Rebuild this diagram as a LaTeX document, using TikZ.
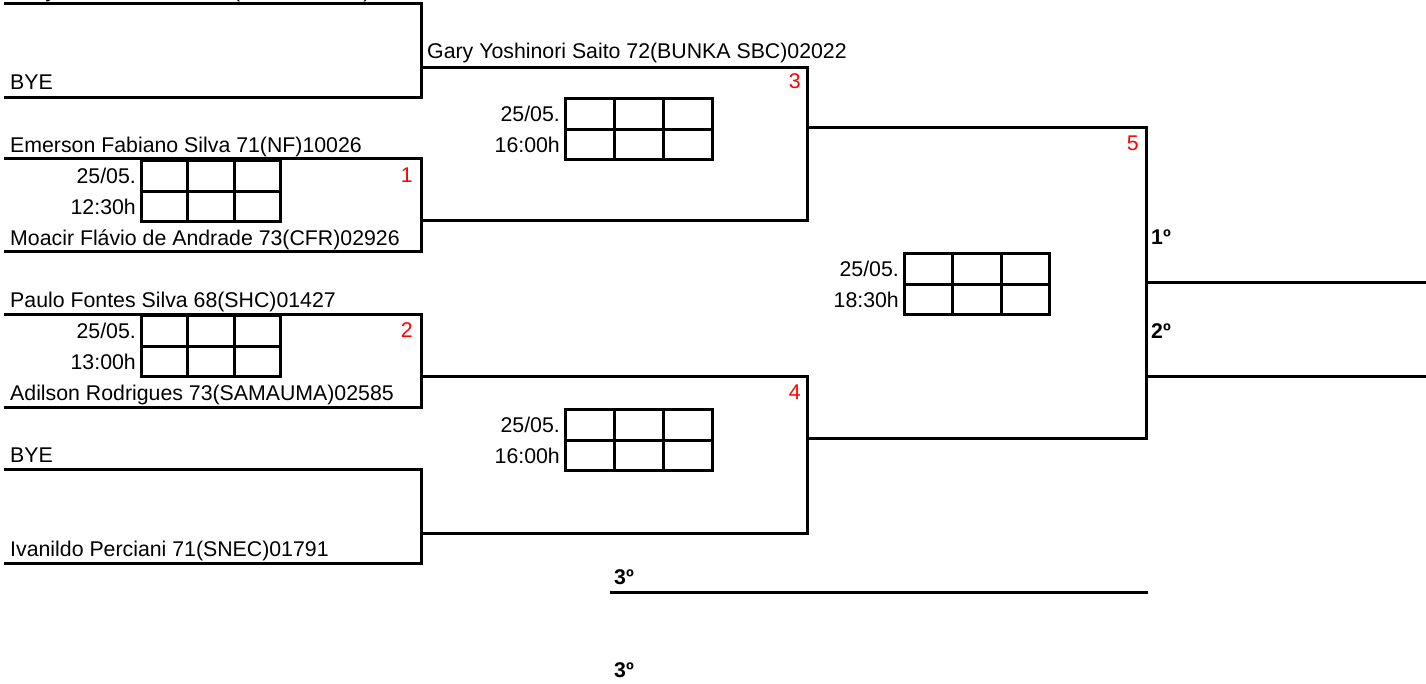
\documentclass[tikz,border=0pt]{standalone}
\usepackage{fontspec}
\setmainfont{Liberation Sans}
\usetikzlibrary{calc}
\begin{document}
\begin{tikzpicture}[x=1pt,y=-1pt,
  bline/.style={line width=3pt,line cap=rect},
  player/.style={anchor=base west,inner sep=0pt,font=\fontsize{21.3}{25}\selectfont},
  tlabel/.style={anchor=base east,inner sep=0pt,font=\fontsize{21.3}{25}\selectfont},
  mnum/.style={anchor=base east,inner sep=0pt,text=red,font=\fontsize{21.3}{25}\selectfont},
  place/.style={anchor=base west,inner sep=0pt,font=\fontsize{21.3}{25}\selectfont\bfseries},
  scorebox/.style={draw,line width=3pt,anchor=north west,inner sep=0pt}]
\useasboundingbox (0,0) rectangle (1426,683);

% ---------- coordinates of the bracket ----------
\coordinate (e1a) at (5,3.5);   \coordinate (e1b) at (421,3.5);
\coordinate (e2a) at (5,97);    \coordinate (e2b) at (421,97);
\coordinate (e3a) at (5,158);   \coordinate (e3b) at (421,158);
\coordinate (e4a) at (5,251);   \coordinate (e4b) at (421,251);
\coordinate (e5a) at (5,314);   \coordinate (e5b) at (421,314);
\coordinate (e6a) at (5,407);   \coordinate (e6b) at (421,407);
\coordinate (e7a) at (5,469);   \coordinate (e7b) at (421,469);
\coordinate (e8a) at (5,563);   \coordinate (e8b) at (421,563);

\coordinate (r1a) at (421,67);  \coordinate (r1b) at (807,67);
\coordinate (r2a) at (421,220); \coordinate (r2b) at (807,220);
\coordinate (r3a) at (421,376); \coordinate (r3b) at (807,376);
\coordinate (r4a) at (421,533); \coordinate (r4b) at (807,533);

\coordinate (s1a) at (807,127); \coordinate (s1b) at (1146,127);
\coordinate (s2a) at (807,438); \coordinate (s2b) at (1146,438);

\coordinate (f1a) at (1146,282); \coordinate (f1b) at (1426,282);
\coordinate (f2a) at (1146,376); \coordinate (f2b) at (1426,376);

\coordinate (t3a) at (611,592); \coordinate (t3b) at (1146,592);

% ---------- bracket lines ----------
\draw[bline] (e1a) -- (e1b) -- (e2b) -- (e2a);
\draw[bline] (e3a) -- (e3b) -- (e4b) -- (e4a);
\draw[bline] (e5a) -- (e5b) -- (e6b) -- (e6a);
\draw[bline] (e7a) -- (e7b) -- (e8b) -- (e8a);
\draw[bline] (r1a) -- (r1b) -- (r2b) -- (r2a);
\draw[bline] (r3a) -- (r3b) -- (r4b) -- (r4a);
\draw[bline] (s1a) -- (s1b) -- (s2b) -- (s2a);
\draw[bline] (f1a) -- (f1b);
\draw[bline] (f2a) -- (f2b);
\draw[bline] (t3a) -- (t3b);

% ---------- players ----------
\node[player] (p0) at (10,-3) {Gary Yoshinori Saito 72(BUNKA SBC)02022};
\node[player] (p1) at (10,89) {BYE};
\node[player] (p2) at (10,152) {Emerson Fabiano Silva 71(NF)10026};
\node[player] (p3) at (10,245) {Moacir Flávio de Andrade 73(CFR)02926};
\node[player] (p4) at (10,307) {Paulo Fontes Silva 68(SHC)01427};
\node[player] (p5) at (10,400) {Adilson Rodrigues 73(SAMAUMA)02585};
\node[player] (p6) at (10,462) {BYE};
\node[player] (p7) at (10,556) {Ivanildo Perciani 71(SNEC)01791};
\node[player] (p8) at (427,58) {Gary Yoshinori Saito 72(BUNKA SBC)02022};

% ---------- match numbers ----------
\node[mnum] (m1) at (413,182) {1};
\node[mnum] (m2) at (413,337) {2};
\node[mnum] (m3) at (801,88) {3};
\node[mnum] (m4) at (801,399) {4};
\node[mnum] (m5) at (1139,150) {5};

% ---------- places ----------
\node[place] (pl1) at (1151,244) {1º};
\node[place] (pl2) at (1151,338) {2º};
\node[place] (pl3a) at (614,584) {3º};
\node[place] (pl3b) at (614,677) {3º};

% ---------- score grids ----------
\foreach \g/\x/\y/\w/\d/\t in {g1/140/159/139/25\slash05./12:30h,
                                g2/140/314/139/25\slash05./13:00h,
                                g3/564/97/147/25\slash05./16:00h,
                                g4/564/408/147/25\slash05./16:00h,
                                g5/903/252/145/25\slash05./18:30h}{
  \node[scorebox,minimum width=\w pt,minimum height=61pt] (\g) at (\x,\y) {};
  \draw[line width=3pt] (\g.west) -- (\g.east);
  \draw[line width=3pt] ($(\g.north west)!0.335!(\g.north east)$) -- ($(\g.south west)!0.335!(\g.south east)$);
  \draw[line width=3pt] ($(\g.north west)!0.665!(\g.north east)$) -- ($(\g.south west)!0.665!(\g.south east)$);
  \node[tlabel] (\g d) at ($(\g.north west)+(-4,24)$) {\d};
  \node[tlabel] (\g t) at ($(\g.north west)+(-4,55)$) {\t};
}
\end{tikzpicture}
\end{document}
